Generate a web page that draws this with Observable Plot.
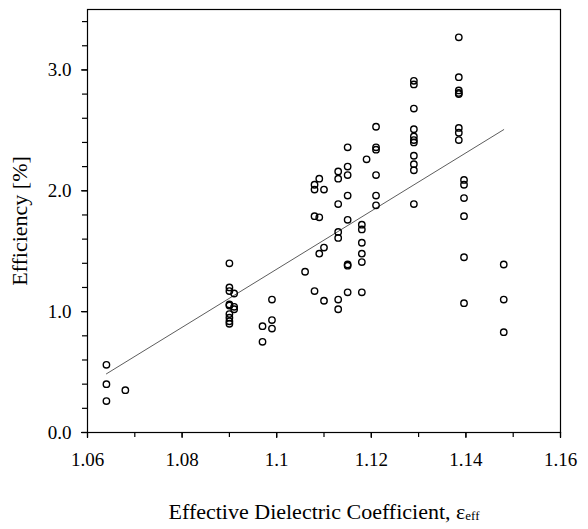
<!DOCTYPE html>
<html>
<head>
<meta charset="utf-8">
<script src="https://cdn.jsdelivr.net/npm/d3@7"></script>
<script src="https://cdn.jsdelivr.net/npm/@observablehq/plot@0.6"></script>
<style>
  html, body { margin: 0; padding: 0; background: white; }
  g[aria-label="x-axis label"] text, g[aria-label="y-axis label"] text { font-size: 22px; }
</style>
</head>
<body>
<div id="chart"></div>
<script>
// Effective dielectric coefficient (x) for each measured sample
const dielectric = [
  1.064, 1.064, 1.064,
  1.068,
  1.090, 1.090, 1.090, 1.090, 1.090, 1.090, 1.090, 1.090, 1.090,
  1.091, 1.091, 1.091,
  1.097, 1.097,
  1.099, 1.099, 1.099,
  1.106,
  1.108, 1.108, 1.108, 1.108,
  1.109, 1.109, 1.109,
  1.110, 1.110, 1.110,
  1.113, 1.113, 1.113, 1.113, 1.113, 1.113, 1.113,
  1.115, 1.115, 1.115, 1.115, 1.115, 1.115, 1.115, 1.115,
  1.118, 1.118, 1.118, 1.118, 1.118, 1.118,
  1.119,
  1.121, 1.121, 1.121, 1.121, 1.121, 1.121,
  1.129, 1.129, 1.129, 1.129, 1.129, 1.129, 1.129, 1.129, 1.129, 1.129, 1.129,
  1.1385, 1.1385, 1.1385, 1.1385, 1.1385, 1.1385, 1.1385, 1.1385,
  1.1396, 1.1396, 1.1396, 1.1396, 1.1396, 1.1396,
  1.148, 1.148, 1.148
];
// Efficiency [%] for each sample (same order)
const efficiency = [
  0.56, 0.40, 0.26,
  0.35,
  1.40, 1.20, 1.17, 1.06, 1.05, 0.98, 0.95, 0.92, 0.90,
  1.15, 1.04, 1.02,
  0.88, 0.75,
  1.10, 0.93, 0.86,
  1.33,
  2.05, 2.01, 1.79, 1.17,
  2.10, 1.78, 1.48,
  2.01, 1.53, 1.09,
  2.16, 2.10, 1.89, 1.66, 1.61, 1.10, 1.02,
  2.36, 2.20, 2.13, 1.96, 1.76, 1.39, 1.38, 1.16,
  1.72, 1.68, 1.57, 1.48, 1.41, 1.16,
  2.26,
  2.53, 2.36, 2.34, 2.13, 1.96, 1.88,
  2.91, 2.88, 2.68, 2.51, 2.45, 2.42, 2.40, 2.29, 2.22, 2.17, 1.89,
  3.27, 2.94, 2.83, 2.81, 2.80, 2.52, 2.48, 2.42,
  2.09, 2.05, 1.94, 1.79, 1.45, 1.07,
  1.39, 1.10, 0.83
];

const xTicks = [1.06, 1.08, 1.10, 1.12, 1.14, 1.16];
const xTickLabels = ["1.06", "1.08", "1.1", "1.12", "1.14", "1.16"];
const xMinorTicks = [1.06, 1.07, 1.08, 1.09, 1.10, 1.11, 1.12, 1.13, 1.14, 1.15, 1.16];
const yTicks = [0, 1, 2, 3];
const yTickLabels = ["0.0", "1.0", "2.0", "3.0"];
const yMinorTicks = [0, 0.2, 0.4, 0.6, 0.8, 1.0, 1.2, 1.4, 1.6, 1.8, 2.0, 2.2, 2.4, 2.6, 2.8, 3.0, 3.2, 3.4];

const xLabel = "Effective Dielectric Coefficient, ";
const xLabelSymbol = "\u03B5";
const xLabelSub = "eff";
const yLabel = "Efficiency [%]";

const data = dielectric.map((x, i) => ({x, y: efficiency[i]}));

const chart = Plot.plot({
  width: 588,
  height: 529,
  marginLeft: 87,
  marginRight: 28,
  marginTop: 9,
  marginBottom: 97,
  style: {fontFamily: "'Liberation Serif', serif", fontSize: "19px", color: "black", background: "white"},
  x: {domain: [1.06, 1.16]},
  y: {domain: [0, 3.5]},
  marks: [
    Plot.frame({stroke: "black", strokeWidth: 1.2}),
    Plot.axisX({ticks: xMinorTicks, tickSize: 5, tickFormat: () => "", label: null, strokeWidth: 1.2}),
    Plot.axisX({ticks: xTicks, tickSize: 6, tickPadding: 14, strokeWidth: 1.2,
      tickFormat: d => xTickLabels[xTicks.findIndex(t => Math.abs(t - d) < 1e-9)],
      label: xLabel + xLabelSymbol, labelAnchor: "center", labelArrow: "none", labelOffset: 86}),
    Plot.axisY({ticks: yMinorTicks, tickSize: 5, tickFormat: () => "", label: null, strokeWidth: 1.2}),
    Plot.axisY({ticks: yTicks, tickSize: 6, tickPadding: 10, strokeWidth: 1.2,
      tickFormat: d => yTickLabels[yTicks.indexOf(d)],
      label: yLabel, labelAnchor: "center", labelArrow: "none", labelOffset: 76}),
    Plot.linearRegressionY(data, {x: "x", y: "y", ci: 0, stroke: "#333", strokeWidth: 0.8}),
    Plot.dot(data, {x: "x", y: "y", r: 3.2, stroke: "black", strokeWidth: 1.4, fill: "none"})
  ]
});

document.getElementById("chart").appendChild(chart);

// add subscript to the x-axis label
const labels = chart.querySelectorAll('g[aria-label="x-axis label"] text');
labels.forEach(t => {
  const ts = document.createElementNS("http://www.w3.org/2000/svg", "tspan");
  ts.setAttribute("font-size", "13px");
  ts.setAttribute("dy", "0.15em");
  ts.textContent = xLabelSub;
  t.appendChild(ts);
});
</script>
</body>
</html>
